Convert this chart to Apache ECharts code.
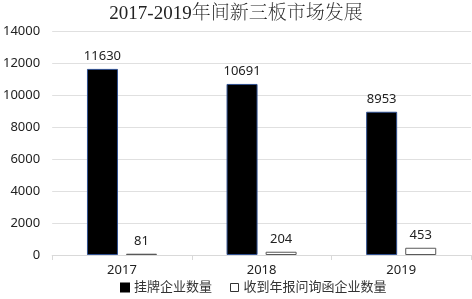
<!DOCTYPE html>
<html><head><meta charset="utf-8">
<script src="https://cdn.jsdelivr.net/npm/echarts@6/dist/echarts.min.js"></script>
<style>html,body{margin:0;padding:0;background:#fff}#c{width:472px;height:299px}</style>
</head><body><div id="c"></div>
<script>
var categories = ['2017', '2018', '2019'];
var listedCompanies = [11630, 10691, 8953];
var inquiryCompanies = [81, 204, 453];
var seriesNames = ['挂牌企业数量', '收到年报问询函企业数量'];
var chart = echarts.init(document.getElementById('c'));
var font = 'Noto Sans, Noto Sans CJK SC, sans-serif';
chart.setOption({
  animation: false,
  title: { text: '2017-2019年间新三板市场发展', left: 'center', top: 0,
    textStyle: { fontFamily: 'Liberation Serif, Noto Serif CJK SC, Noto Sans CJK SC', fontSize: 19, fontWeight: 'lighter', color: '#222' } },
  grid: { left: 51, right: 1, top: 31, bottom: 44 },
  legend: { bottom: 0, left: 115, itemWidth: 8, itemHeight: 8, itemGap: 18,
    textStyle: { fontFamily: font, fontSize: 13, color: '#333' },
    data: [
      { name: seriesNames[0], icon: 'rect', itemStyle: { color: '#000', borderColor: '#000' } },
      { name: seriesNames[1], icon: 'rect', itemStyle: { color: '#fff', borderColor: '#333', borderWidth: 1 } }
    ] },
  xAxis: { type: 'category', data: categories,
    axisLine: { lineStyle: { color: '#d9d9d9' } },
    axisTick: { show: true, lineStyle: { color: '#d9d9d9' } },
    axisLabel: { fontFamily: font, fontSize: 13, color: '#222', margin: 9 } },
  yAxis: { type: 'value', min: 0, max: 14000, interval: 2000,
    axisLabel: { fontFamily: font, fontSize: 13, color: '#222', margin: 12, formatter: function (v) { return String(v); } },
    splitLine: { lineStyle: { color: '#e0e0e0' } } },
  series: [
    { name: seriesNames[0], type: 'bar', data: listedCompanies, barWidth: 31, barGap: '26%',
      itemStyle: { color: '#000', borderColor: '#2f4f8f', borderWidth: 1 },
      label: { show: true, position: 'top', distance: 6, fontFamily: font, fontSize: 13, color: '#222' } },
    { name: seriesNames[1], type: 'bar', data: inquiryCompanies, barWidth: 31,
      itemStyle: { color: '#fff', borderColor: '#595959', borderWidth: 1 },
      label: { show: true, position: 'top', distance: 6, fontFamily: font, fontSize: 13, color: '#222' } }
  ]
});
</script></body></html>
